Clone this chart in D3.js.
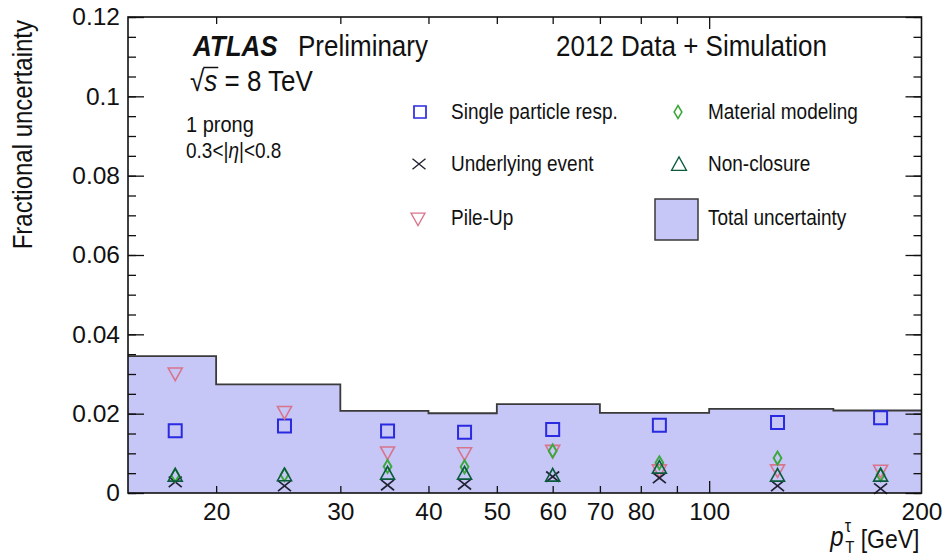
<!DOCTYPE html>
<html><head><meta charset="utf-8">
<script src="https://cdn.jsdelivr.net/npm/d3@7"></script>
<style>
html,body{margin:0;padding:0;background:#fff;}
svg{display:block;font-family:"Liberation Sans",Arial,Helvetica,sans-serif;}
</style></head>
<body><svg id="c" width="948" height="559"></svg>
<script>
// ---- data ----
const binEdges = [15, 20, 30, 40, 50, 70, 100, 150, 200];
const binCenters = [17.5, 25, 35, 45, 60, 85, 125, 175];
const totalUncertainty = [0.0345, 0.0274, 0.0207, 0.0201, 0.0224, 0.0202, 0.0212, 0.0208];
const singleParticle = [0.0157, 0.0169, 0.0156, 0.0153, 0.0160, 0.0171, 0.0178, 0.0190];
const pileUp = [0.0300, 0.0203, 0.0101, 0.0099, 0.0105, 0.0056, 0.0056, 0.0055];
const underlyingEvent = [0.0028, 0.0018, 0.0020, 0.0022, 0.0041, 0.0038, 0.0018, 0.0011];
const materialModeling = [0.0045, 0.0046, 0.0067, 0.0066, 0.0106, 0.0076, 0.0088, 0.0046];
const nonClosure = [0.0045, 0.0046, 0.0050, 0.0050, 0.0045, 0.0065, 0.0045, 0.0045];
const xTickLabels = [20, 30, 40, 50, 60, 70, 80, 100, 200];
const xMinorTicks = [20, 30, 40, 50, 60, 70, 80, 90];
const xMajorTicks = [100];
const yTickValues = [0, 0.02, 0.04, 0.06, 0.08, 0.1, 0.12];
const yTickLabels = ["0", "0.02", "0.04", "0.06", "0.08", "0.1", "0.12"];
const yMinorTicks = d3.range(0, 0.1201, 0.005);

// ---- layout ----
const L = 128, R = 921.5, T = 17, B = 493;
const SY = 1.12; // vertical stretch of text to mimic the reference rendering
const svg = d3.select("#c");
const x = d3.scaleLog().domain([15, 200]).range([L, R]);
const y = d3.scaleLinear().domain([0, 0.12]).range([B, T]);

const fillCol = "#c6c6f7", stepCol = "#3a3a3a";
const blue = "#2a2ae0", pink = "#d8758c", green = "#3aa83a", dgreen = "#0b5a3c", black = "#222233";

function txt(parent, px, py, size, str, extra) {
  const t = parent.append("text").attr("transform", `translate(${px},${py}) scale(1,${SY})`)
    .attr("font-size", size).attr("fill", "#111");
  if (str !== null) t.text(str);
  if (extra) extra(t);
  return t;
}

// total uncertainty band
const stepData = [];
totalUncertainty.forEach((v, i) => { stepData.push([binEdges[i], v]); stepData.push([binEdges[i+1], v]); });
const area = d3.area().x(d => x(d[0])).y0(y(0)).y1(d => y(d[1]));
svg.append("path").datum(stepData).attr("d", area).attr("fill", fillCol);
const line = d3.line().x(d => x(d[0])).y(d => y(d[1]));
svg.append("path").datum(stepData).attr("d", line).attr("fill", "none").attr("stroke", stepCol).attr("stroke-width", 1.8);

// marker shapes
function shape(type, cx, cy, s) {
  const h = s / 2;
  switch (type) {
    case "square": return `M${cx-h},${cy-h}H${cx+h}V${cy+h}H${cx-h}Z`;
    case "tdown": return `M${cx-h},${cy-h*0.85}H${cx+h}L${cx},${cy+h*0.95}Z`;
    case "tup": return `M${cx-h},${cy+h*0.85}H${cx+h}L${cx},${cy-h*0.95}Z`;
    case "diamond": return `M${cx},${cy-h}L${cx+h*0.6},${cy}L${cx},${cy+h}L${cx-h*0.6},${cy}Z`;
    case "cross": return `M${cx-h},${cy-h*0.8}L${cx+h},${cy+h*0.8}M${cx-h},${cy+h*0.8}L${cx+h},${cy-h*0.8}`;
  }
}
const series = [
  {vals: singleParticle, type: "square", col: blue, size: 13, w: 2},
  {vals: pileUp, type: "tdown", col: pink, size: 14, w: 1.6},
  {vals: underlyingEvent, type: "cross", col: black, size: 13, w: 1.7},
  {vals: materialModeling, type: "diamond", col: green, size: 13, w: 1.9},
  {vals: nonClosure, type: "tup", col: dgreen, size: 14, w: 1.6},
];
series.forEach(s => {
  svg.append("g").selectAll("path").data(s.vals).join("path")
    .attr("d", (v, i) => shape(s.type, x(binCenters[i]), y(v), s.size))
    .attr("fill", "none").attr("stroke", s.col).attr("stroke-width", s.w);
});

// axes
const fs = 24.5;
const gL = svg.append("g").attr("transform", `translate(${L},0)`)
  .call(d3.axisLeft(y).tickValues(yTickValues).tickSize(-16).tickPadding(8).tickFormat((d, i) => yTickLabels[i]));
const gLm = svg.append("g").attr("transform", `translate(${L},0)`)
  .call(d3.axisLeft(y).tickValues(yMinorTicks).tickSize(-8).tickFormat(""));
const gR = svg.append("g").attr("transform", `translate(${R},0)`)
  .call(d3.axisRight(y).tickValues(yTickValues).tickSize(-16).tickFormat(""));
const gRm = svg.append("g").attr("transform", `translate(${R},0)`)
  .call(d3.axisRight(y).tickValues(yMinorTicks).tickSize(-8).tickFormat(""));
const gB = svg.append("g").attr("transform", `translate(0,${B})`)
  .call(d3.axisBottom(x).tickValues(xTickLabels).tickSize(0).tickPadding(10).tickFormat(d3.format("d")));
const gBm = svg.append("g").attr("transform", `translate(0,${B})`)
  .call(d3.axisBottom(x).tickValues(xMinorTicks).tickSize(-7).tickFormat(""));
const gBM = svg.append("g").attr("transform", `translate(0,${B})`)
  .call(d3.axisBottom(x).tickValues(xMajorTicks).tickSize(-12).tickFormat(""));
const gTm = svg.append("g").attr("transform", `translate(0,${T})`)
  .call(d3.axisTop(x).tickValues(xMinorTicks).tickSize(-7).tickFormat(""));
const gTM = svg.append("g").attr("transform", `translate(0,${T})`)
  .call(d3.axisTop(x).tickValues(xMajorTicks).tickSize(-12).tickFormat(""));
[gL, gLm, gR, gRm, gB, gBm, gBM, gTm, gTM].forEach(g => {
  g.select(".domain").remove();
  g.selectAll("line").attr("stroke", "#111").attr("stroke-width", 1.3);
  g.selectAll("text").attr("font-size", fs).attr("fill", "#111").attr("font-family", "Liberation Sans, Arial, sans-serif");
});

// frame
svg.append("rect").attr("x", L).attr("y", T).attr("width", R - L).attr("height", B - T)
  .attr("fill", "none").attr("stroke", "#111").attr("stroke-width", 1.6);

// y title
svg.append("text").attr("transform", `translate(32,${T + 3}) rotate(-90) scale(1,${SY})`).attr("text-anchor", "end")
  .attr("font-size", 24).attr("fill", "#111").text("Fractional uncertainty");

// x title
const xt = svg.append("g");
const gev = txt(xt, R - 2, 548, 23, "[GeV]", t => t.attr("text-anchor", "end"));
const gw = gev.node().getComputedTextLength();
const sx = R - 2 - gw - 16;
txt(xt, sx, 532, 16, "τ");
txt(xt, sx + 0.5, 553, 15, "T");
txt(xt, sx - 1, 546, 24, "p", t => t.attr("text-anchor", "end").attr("font-style", "italic"));

// labels
const lab = svg.append("g");
txt(lab, 193, 56, 26, "ATLAS", t => t.attr("font-weight", "bold").attr("font-style", "italic"));
txt(lab, 298, 56, 26, "Preliminary");
txt(lab, 556, 56, 26, "2012 Data + Simulation");
const sq = txt(lab, 190, 91, 26, null);
const t1 = sq.append("tspan").text("√");
sq.append("tspan").attr("font-style", "italic").text("s");
sq.append("tspan").text(" = 8 TeV");
const rw = t1.node().getComputedTextLength();
// overline on s
lab.append("line").attr("x1", 190 + rw - 1).attr("x2", 190 + rw + 14).attr("y1", 91 - 23.5).attr("y2", 91 - 23.5)
  .attr("stroke", "#111").attr("stroke-width", 1.5);
txt(lab, 186, 132, 20, "1 prong");
const eta = txt(lab, 186, 158, 19, null);
eta.append("tspan").text("0.3<|");
eta.append("tspan").attr("font-style", "italic").text("η");
eta.append("tspan").text("|<0.8");

// legend
const legFs = 19;
const legItems = [
  {type: "square", col: blue, label: "Single particle resp.", mx: 420, my: 112, tx: 451, ty: 119, size: 12, w: 1.7},
  {type: "cross", col: black, label: "Underlying event", mx: 419, my: 164, tx: 451, ty: 170.5, size: 13, w: 1.4},
  {type: "tdown", col: pink, label: "Pile-Up", mx: 418, my: 219, tx: 451, ty: 225, size: 14, w: 1.3},
  {type: "diamond", col: green, label: "Material modeling", mx: 678, my: 112, tx: 708, ty: 119, size: 13, w: 1.5},
  {type: "tup", col: dgreen, label: "Non-closure", mx: 679, my: 164, tx: 708, ty: 170.5, size: 15, w: 1.3},
];
const leg = svg.append("g");
legItems.forEach(it => {
  leg.append("path").attr("d", shape(it.type, it.mx, it.my, it.size)).attr("fill", "none").attr("stroke", it.col).attr("stroke-width", it.w);
  txt(leg, it.tx, it.ty, legFs, it.label);
});
leg.append("rect").attr("x", 655).attr("y", 199).attr("width", 43).attr("height", 41).attr("fill", fillCol).attr("stroke", stepCol).attr("stroke-width", 1.5);
txt(leg, 708, 225, legFs, "Total uncertainty");
</script></body></html>
